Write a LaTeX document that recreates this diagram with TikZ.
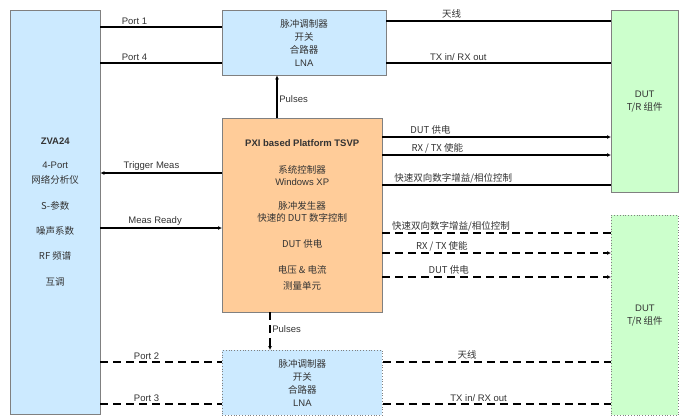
\documentclass[tikz,border=0pt]{standalone}
\usepackage{fontspec}
\setmainfont{Liberation Sans}
\newfontfamily\zhfont{Noto Sans CJK SC}
\newcommand{\zh}[1]{{\zhfont #1}}
\usepackage{tikz}
\usetikzlibrary{arrows.meta}
\definecolor{boxblue}{HTML}{CCEAFF}
\definecolor{boxorange}{HTML}{FFCC99}
\definecolor{boxgreen}{HTML}{CCFFCC}
\definecolor{edgegray}{HTML}{808080}
\definecolor{textgray}{HTML}{333333}

\begin{document}
\begin{tikzpicture}[
    x=1pt, y=-1pt,
    component/.style={rectangle, draw=edgegray, anchor=north west,
                      align=center, inner sep=0pt, text=textgray,
                      font=\fontsize{9.5}{13}\selectfont},
    instrument/.style={component, fill=boxblue},
    platform/.style={component, fill=boxorange},
    dut/.style={component, fill=boxgreen},
    dotbox/.style={dotted, thick},
    wire/.style={line width=1.6pt},
    dwire/.style={wire, dash pattern=on 8pt off 5pt},
    sig/.style={wire, -{Latex[length=4pt,width=4pt]}},
    dsig/.style={dwire, -{Latex[length=4pt,width=4pt]}},
    lbl/.style={above, inner sep=1.5pt, text=textgray,
                font=\fontsize{9.5}{11}\selectfont}
]
\useasboundingbox (0,0) rectangle (680,416);

% boxes
\node[instrument, minimum width=90pt, minimum height=404pt, font=\fontsize{9.5}{11}\selectfont] (zva) at (10,10)
  {\textbf{ZVA24}\\[13pt] 4-Port\\[4pt] \zh{网络分析仪}\\[15pt] \zh{S-参数}\\[14pt]
   \zh{噪声系数}\\[14pt] \zh{RF 频谱}\\[15pt] \zh{互调}};
\node[instrument, minimum width=164pt, minimum height=65pt] (upper) at (222,10)
  {\zh{脉冲调制器}\\ \zh{开关}\\ \zh{合路器}\\ LNA};
\node[platform, minimum width=160pt, minimum height=194pt, font=\fontsize{9.5}{12}\selectfont] (pxi) at (222,118)
  {\textbf{PXI based Platform TSVP}\\[15pt] \zh{系统控制器}\\ Windows XP\\[12pt]
   \zh{脉冲发生器}\\ \zh{快速的 DUT 数字控制}\\[14pt] \zh{DUT 供电}\\[14pt]
   \zh{电压 \& 电流}\\[4pt] \zh{测量单元}};
\node[instrument, dotbox, minimum width=160pt, minimum height=65pt] (lower) at (222,350)
  {\zh{脉冲调制器}\\ \zh{开关}\\ \zh{合路器}\\ LNA};
\node[dut, minimum width=67pt, minimum height=182pt] (dut1) at (611,10)
  {DUT\\ \zh{T/R 组件}};
\node[dut, dotbox, minimum width=67pt, minimum height=200pt] (dut2) at (611,215)
  {DUT\\ \zh{T/R 组件}};

% ports, solid path
\draw[wire] (zva.east |- 0,27) -- node[lbl, pos=0.28] {Port 1} (upper.west |- 0,27);
\draw[wire] (zva.east |- 0,63) -- node[lbl, pos=0.28] {Port 4} (upper.west |- 0,63);
\draw[wire] (upper.east |- 0,21) -- node[lbl, pos=0.29] {\zh{天线}} (dut1.west |- 0,21);
\draw[wire] (upper.east |- 0,63) -- node[lbl, pos=0.32] {TX in/ RX out} (dut1.west |- 0,63);
\draw[sig] (pxi.north -| 277,0) -- node[lbl, right, pos=0.45] {Pulses} (upper.south -| 277,0);

% trigger
\draw[sig] (pxi.west |- 0,173) -- node[lbl, pos=0.58] {Trigger Meas} (zva.east |- 0,173);
\draw[sig] (zva.east |- 0,228) -- node[lbl, pos=0.45] {Meas Ready} (pxi.west |- 0,228);

% control to first DUT
\draw[sig] (pxi.east |- 0,137) -- node[lbl, pos=0.21] {\zh{DUT 供电}} (dut1.west |- 0,137);
\draw[sig] (pxi.east |- 0,155) -- node[lbl, pos=0.24] {\zh{RX / TX 使能}} (dut1.west |- 0,155);
\draw[wire] (pxi.east |- 0,185) -- node[lbl, pos=0.31] {\zh{快速双向数字增益/相位控制}} (dut1.west |- 0,185);

% control to second DUT
\draw[dwire] (pxi.east |- 0,233) -- node[lbl, pos=0.3] {\zh{快速双向数字增益/相位控制}} (dut2.west |- 0,233);
\draw[dsig] (pxi.east |- 0,253) -- node[lbl, pos=0.26] {\zh{RX / TX 使能}} (dut2.west |- 0,253);
\draw[dsig] (pxi.east |- 0,277) -- node[lbl, pos=0.29] {\zh{DUT 供电}} (dut2.west |- 0,277);

% ports, dashed path
\draw[dsig] (pxi.south -| 270,0) -- node[lbl, right, pos=0.45] {Pulses} (lower.north -| 270,0);
\draw[dwire] (zva.east |- 0,362) -- node[lbl, pos=0.38] {Port 2} (lower.west |- 0,362);
\draw[dwire] (zva.east |- 0,404) -- node[lbl, pos=0.38] {Port 3} (lower.west |- 0,404);
\draw[dwire] (lower.east |- 0,362) -- node[lbl, pos=0.37] {\zh{天线}} (dut2.west |- 0,362);
\draw[dwire] (lower.east |- 0,404) -- node[lbl, pos=0.42] {TX in/ RX out} (dut2.west |- 0,404);
\end{tikzpicture}
\end{document}
